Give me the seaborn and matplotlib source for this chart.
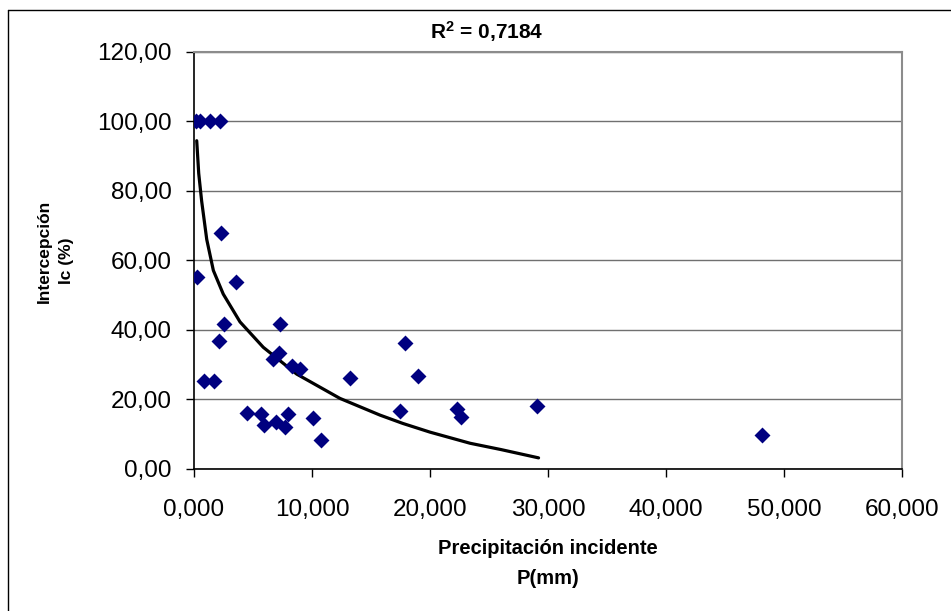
import numpy as np
import pandas as pd
import matplotlib
matplotlib.use("Agg")
import matplotlib.pyplot as plt
import seaborn as sns
from matplotlib.ticker import FuncFormatter, MultipleLocator
from matplotlib.lines import Line2D

# ---- data ----
precip_mm = [0.2, 0.5, 1.35, 2.2, 2.26, 0.23, 3.53, 2.57, 2.12, 7.29, 7.18, 6.67,
             8.28, 8.98, 0.87, 1.72, 13.2, 4.46, 5.68, 5.96, 6.92, 7.71, 7.99,
             10.1, 10.8, 17.9, 18.95, 17.46, 22.3, 22.6, 29.1, 48.1]
intercepcion_pct = [100, 100, 100, 100, 68.0, 55.2, 53.7, 41.8, 36.8, 41.8, 33.4, 31.5,
                    29.6, 28.9, 25.3, 25.3, 26.2, 16.2, 15.7, 12.6, 13.4, 12.1, 15.7,
                    14.7, 8.3, 36.2, 26.7, 16.6, 17.2, 15.0, 18.1, 9.8]

# logarithmic trend line
trend_x = [0.23, 0.4, 0.65, 1.08, 1.64, 2.48, 3.9, 5.87, 8.7, 12.37, 15.76, 17.7, 20.0, 23.4, 26.0, 29.2]
trend_y = [94.4, 85.0, 77.0, 66.0, 57.1, 50.3, 42.3, 35.0, 27.3, 20.3, 15.5, 13.1, 10.6, 7.4, 5.6, 3.2]

r2_label = "0,7184"
x_label_lines = ["Precipitación incidente", "P(mm)"]
y_label_lines = ["Intercepción", "Ic (%)"]

df = pd.DataFrame({"P": precip_mm, "Ic": intercepcion_pct})
trend = pd.DataFrame({"P": trend_x, "Ic": trend_y})

sns.set_theme(style="white")
plt.rcParams["font.family"] = ["Liberation Sans", "DejaVu Sans"]
plt.rcParams["mathtext.fontset"] = "custom"
plt.rcParams["mathtext.rm"] = "Liberation Sans:bold"
plt.rcParams["mathtext.bf"] = "Liberation Sans:bold"
plt.rcParams["mathtext.it"] = "Liberation Sans:bold"

W, H = 951, 611
fig = plt.figure(figsize=(W / 100, H / 100), dpi=100)
fig.patch.set_facecolor("white")
ax = fig.add_axes([194 / W, 1 - 469 / H, (902 - 194) / W, (469 - 51.7) / H])
ax.set_facecolor("white")

sns.scatterplot(data=df, x="P", y="Ic", marker="D", s=66, color="#000080",
                edgecolor="#000080", linewidth=0, ax=ax, zorder=3)
sns.lineplot(data=trend, x="P", y="Ic", color="black", lw=2.3, sort=False,
             estimator=None, ax=ax, zorder=2)

ax.set_xlim(0, 60)
ax.set_ylim(0, 120)
ax.xaxis.set_major_locator(MultipleLocator(10))
ax.yaxis.set_major_locator(MultipleLocator(20))
ax.xaxis.set_major_formatter(FuncFormatter(lambda v, p: f"{v:.3f}".replace(".", ",")))
ax.yaxis.set_major_formatter(FuncFormatter(lambda v, p: f"{v:.2f}".replace(".", ",")))
ax.set_xlabel("")
ax.set_ylabel("")

ax.yaxis.grid(True, color="#707070", lw=1.0)
ax.xaxis.grid(False)
ax.set_axisbelow(True)

ax.tick_params(axis="both", which="major", direction="out", length=5.5, width=1,
               color="black", labelsize=17.5, labelcolor="black",
               bottom=True, left=True)
ax.tick_params(axis="y", pad=10.5)
ax.tick_params(axis="x", pad=16)

for side in ("left", "bottom"):
    ax.spines[side].set_color("black")
    ax.spines[side].set_linewidth(1.2)
for side in ("right", "top"):
    ax.spines[side].set_color("#8c8c8c")
    ax.spines[side].set_linewidth(1.5)

# texts
fig.text(487 / W, 1 - 32 / H, r"R$^{2}$ = " + r2_label, ha="center", va="center",
         fontsize=15, fontweight="bold", color="black")
fig.text(548 / W, 1 - 549 / H, x_label_lines[0], ha="center", va="center",
         fontsize=14.5, fontweight="bold", color="black")
fig.text(548 / W, 1 - 579 / H, x_label_lines[1], ha="center", va="center",
         fontsize=14.5, fontweight="bold", color="black")
fig.text(44 / W, 1 - 251 / H, y_label_lines[0], ha="center", va="center",
         rotation=90, fontsize=12.5, fontweight="bold", color="black")
fig.text(66 / W, 1 - 261 / H, y_label_lines[1], ha="center", va="center",
         rotation=90, fontsize=12.5, fontweight="bold", color="black")

# outer chart frame
fig.add_artist(Line2D([8 / W, 8 / W], [0, 1 - 10 / H], color="black", lw=1))
fig.add_artist(Line2D([8 / W, 1], [1 - 10 / H, 1 - 10 / H], color="black", lw=1))

fig.savefig("out.png", dpi=100)
